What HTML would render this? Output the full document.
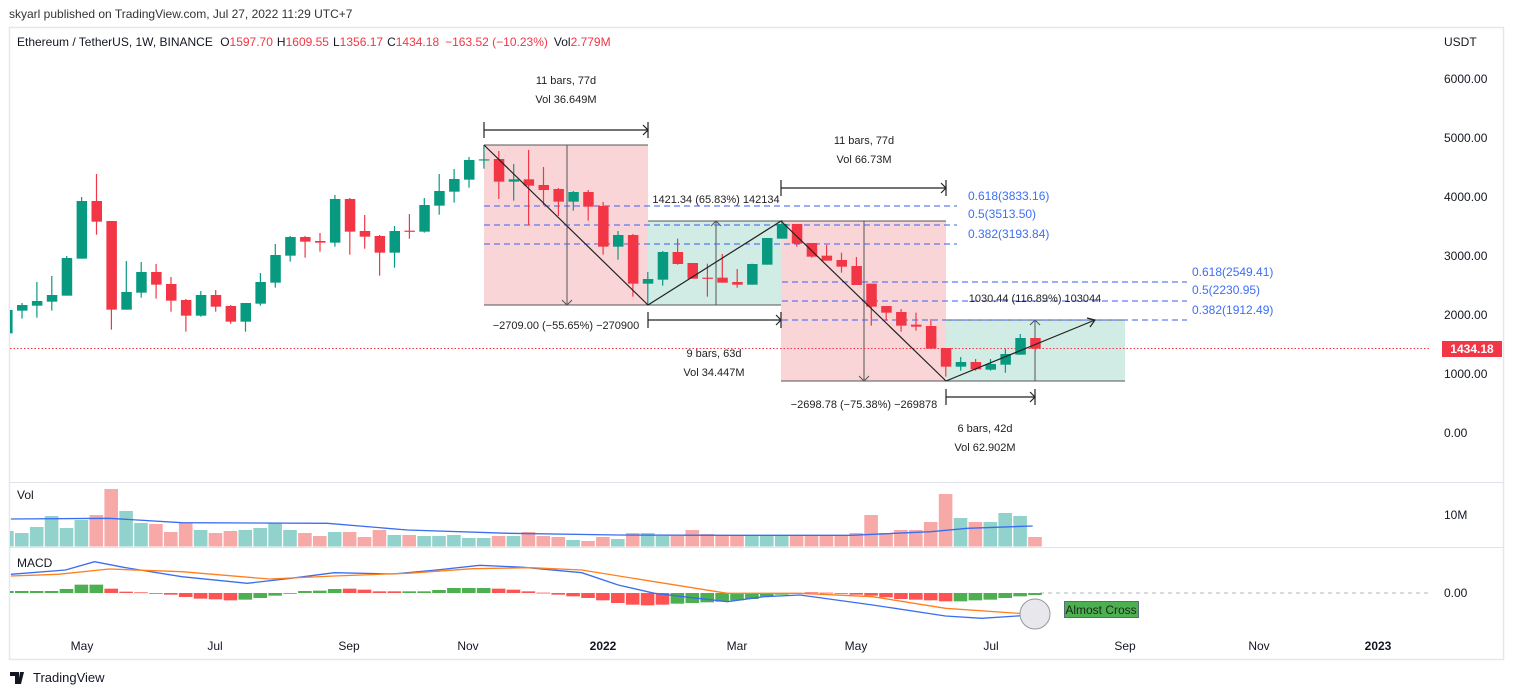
<!DOCTYPE html>
<html><head><meta charset="utf-8"><style>
html,body{margin:0;padding:0;background:#fff;}
svg{display:block;font-family:"Liberation Sans",sans-serif;}
</style></head><body>
<svg id="s" width="1514" height="695" xmlns="http://www.w3.org/2000/svg">
<defs><clipPath id="cp"><rect x="10" y="28" width="1420" height="630"/></clipPath></defs>
<text x="9" y="18" font-size="12" fill="#333">skyarl published on TradingView.com, Jul 27, 2022 11:29 UTC+7</text>
<rect x="9.5" y="27.5" width="1494" height="632" fill="none" stroke="#e6e7ec" stroke-width="1.5"/>
<line x1="9" y1="482.5" x2="1504" y2="482.5" stroke="#e0e3eb"/>
<line x1="9" y1="547.5" x2="1504" y2="547.5" stroke="#e0e3eb"/>
<g font-size="12" fill="#131722">
<text x="17" y="46">Ethereum / TetherUS, 1W, BINANCE <tspan dx="4">O</tspan><tspan fill="#f23645">1597.70</tspan><tspan dx="4">H</tspan><tspan fill="#f23645">1609.55</tspan><tspan dx="4">L</tspan><tspan fill="#f23645">1356.17</tspan><tspan dx="4">C</tspan><tspan fill="#f23645">1434.18</tspan><tspan dx="6" fill="#f23645">−163.52 (−10.23%)</tspan><tspan dx="6">Vol</tspan><tspan fill="#f23645">2.779M</tspan></text>
<text x="1444" y="46">USDT</text>
<text x="1444" y="83">6000.00</text>
<text x="1444" y="142">5000.00</text>
<text x="1444" y="201">4000.00</text>
<text x="1444" y="260">3000.00</text>
<text x="1444" y="319">2000.00</text>
<text x="1444" y="378">1000.00</text>
<text x="1444" y="437">0.00</text>
<text x="1444" y="519">10M</text>
<text x="1444" y="597">0.00</text>
<text x="17" y="499">Vol</text>
<text x="17" y="567">MACD</text>
<g text-anchor="middle">
<text x="82" y="650">May</text><text x="215" y="650">Jul</text><text x="349" y="650">Sep</text><text x="468" y="650">Nov</text><text x="603" y="650" font-weight="bold">2022</text><text x="737" y="650">Mar</text><text x="856" y="650">May</text><text x="991" y="650">Jul</text><text x="1125" y="650">Sep</text><text x="1259" y="650">Nov</text><text x="1378" y="650" font-weight="bold">2023</text>
</g></g>
<g id="main" clip-path="url(#cp)">
<rect x="484" y="145" width="164" height="160" fill="#f9d5d8"/>
<rect x="648" y="221" width="133" height="84" fill="#d1ebe5"/>
<rect x="781" y="221" width="165" height="160" fill="#f9d5d8"/>
<rect x="946" y="320" width="179" height="61" fill="#d1ebe5"/>
<g stroke="#555" stroke-width="1">
<line x1="484" y1="145" x2="648" y2="145"/><line x1="484" y1="305" x2="648" y2="305"/>
<line x1="648" y1="221" x2="781" y2="221"/><line x1="648" y1="305" x2="781" y2="305"/>
<line x1="781" y1="221" x2="946" y2="221"/><line x1="781" y1="381" x2="946" y2="381"/>
<line x1="946" y1="320" x2="1125" y2="320"/><line x1="946" y1="381" x2="1125" y2="381"/>
<line x1="567" y1="145" x2="567" y2="305"/><polyline points="562,300 567,305 572,300" fill="none"/>
<line x1="716" y1="221" x2="716" y2="305"/><polyline points="711,226 716,221 721,226" fill="none"/>
<line x1="864" y1="221" x2="864" y2="381"/><polyline points="859,376 864,381 869,376" fill="none"/>
<line x1="1035" y1="320" x2="1035" y2="381"/><polyline points="1030,325 1035,320 1040,325" fill="none"/>
</g>
<g stroke="#3a5ef5" stroke-dasharray="6,4" stroke-width="1">
<line x1="484" y1="206" x2="957" y2="206"/><line x1="484" y1="225" x2="957" y2="225"/><line x1="484" y1="244" x2="957" y2="244"/>
<line x1="782" y1="282" x2="1187" y2="282"/><line x1="782" y1="301" x2="1187" y2="301"/><line x1="782" y1="320" x2="1187" y2="320"/>
</g>
<line x1="10" y1="348.5" x2="1440" y2="348.5" stroke="#f23645" stroke-dasharray="1.5,2"/>
<g id="candles"></g>
<g stroke="#222" stroke-width="1.2" fill="none">
<line x1="484" y1="145" x2="648" y2="305"/><line x1="648" y1="305" x2="781" y2="221"/><line x1="781" y1="221" x2="946" y2="381"/><line x1="946" y1="381" x2="1095" y2="320"/><polyline points="1087,318 1095,320 1090,327"/>
<line x1="484" y1="130" x2="648" y2="130"/><line x1="484" y1="122" x2="484" y2="138"/><line x1="648" y1="122" x2="648" y2="138"/><polyline points="643,125 648,130 643,135"/>
<line x1="648" y1="320" x2="781" y2="320"/><line x1="648" y1="312" x2="648" y2="328"/><line x1="781" y1="312" x2="781" y2="328"/><polyline points="776,315 781,320 776,325"/>
<line x1="781" y1="188" x2="946" y2="188"/><line x1="781" y1="180" x2="781" y2="196"/><line x1="946" y1="180" x2="946" y2="196"/><polyline points="941,183 946,188 941,193"/>
<line x1="946" y1="397" x2="1035" y2="397"/><line x1="946" y1="389" x2="946" y2="405"/><line x1="1035" y1="389" x2="1035" y2="405"/><polyline points="1030,392 1035,397 1030,402"/>
</g>
<g font-size="11" fill="#222" text-anchor="middle">
<text x="566" y="84">11 bars, 77d</text><text x="566" y="103">Vol 36.649M</text>
<text x="716" y="203">1421.34 (65.83%) 142134</text>
<text x="566" y="329">−2709.00 (−55.65%) −270900</text>
<text x="714" y="357">9 bars, 63d</text><text x="714" y="376">Vol 34.447M</text>
<text x="864" y="144">11 bars, 77d</text><text x="864" y="163">Vol 66.73M</text>
<text x="864" y="408">−2698.78 (−75.38%) −269878</text>
<text x="1035" y="302">1030.44 (116.89%) 103044</text>
<text x="985" y="432">6 bars, 42d</text><text x="985" y="451">Vol 62.902M</text>
</g>
<g font-size="12" fill="#3d6ff5">
<text x="968" y="200">0.618(3833.16)</text><text x="968" y="218">0.5(3513.50)</text><text x="968" y="238">0.382(3193.84)</text>
<text x="1192" y="276">0.618(2549.41)</text><text x="1192" y="294">0.5(2230.95)</text><text x="1192" y="314">0.382(1912.49)</text>
</g>
<g id="vol"></g>
<line x1="1040" y1="593" x2="1430" y2="593" stroke="#b2b5be" stroke-dasharray="4,4"/>
<g id="hist"></g>
<g id="lines"></g>
<circle cx="1035" cy="614" r="15" fill="#e8e8ec" stroke="#9598a1"/>
</g>
<rect x="1442" y="341" width="60" height="16" fill="#f23645"/>
<text x="1472" y="353" font-size="12" font-weight="bold" fill="#fff" text-anchor="middle">1434.18</text>
<rect x="1064.5" y="601.5" width="74" height="16" fill="#4caf50" stroke="#5d6b7a"/>
<text x="1101" y="614" font-size="12" fill="#1b2a1b" text-anchor="middle">Almost Cross</text>
<g transform="translate(10,670)"><path d="M0 2h9v12h-4v-8h-5z M10 2h4l-3 12h-3z" fill="#131722"/><circle cx="13" cy="5" r="0" /></g>
<text x="33" y="682" font-size="13" fill="#131722">TradingView</text>
</svg>
<script>
var NS="http://www.w3.org/2000/svg";
function el(p,t,a){var e=document.createElementNS(NS,t);for(var k in a)e.setAttribute(k,a[k]);document.getElementById(p).appendChild(e);return e;}
var C=[[540,610,540,610,'g'],[525,542,519,566,'g'],[513,527,456,563,'g'],[495,515,438,542,'g'],[384,497,378,497,'g'],[213,386,201,386,'g'],[213,275,132,314,'r'],[273,539,273,599,'r'],[486,539,393,539,'g'],[426,488,396,503,'g'],[426,464,402,506,'r'],[462,512,441,545,'r'],[510,557,507,605,'r'],[495,557,483,560,'g'],[495,530,480,545,'r'],[528,575,525,581,'r'],[519,575,519,605,'g'],[456,521,429,527,'g'],[375,458,342,473,'g'],[321,377,318,395,'g'],[321,335,318,383,'r'],[333,338,309,365,'r'],[207,338,195,350,'g'],[207,305,204,374,'r'],[303,320,255,356,'r'],[318,368,315,437,'r'],[303,368,288,413,'g'],[302,305,252,326,'r'],[225,305,204,308,'g'],[183,227,132,254,'g'],[147,185,117,218,'g'],[90,149,81,173,'g'],[88,91,45,116,'g'],
[87,155,63,207,'r'],[148,155,102,212,'g'],[148,167,60,286,'r'],[165,180,111,226,'r'],[177,215,174,258,'r'],[186,215,183,242,'g'],[186,230,180,272,'r'],[228,350,216,374,'r'],[315,350,303,389,'g'],[315,461,312,500,'r'],[447,461,426,527,'g'],[366,449,363,467,'g'],[366,402,326,404,'r'],[399,446,399,446,'r'],[443,446,401,500,'r'],[443,458,372,458,'r'],[456,464,417,473,'r'],[402,464,401,464,'g'],[324,404,324,404,'g'],[282,326,270,326,'g'],[282,341,282,350,'r'],[339,380,339,383,'r'],[377,392,345,392,'r'],[390,410,368,428,'r'],[408,465,381,465,'r'],[461,530,461,587,'r'],[528,548,528,572,'r'],[546,587,537,605,'r'],[584,590,548,602,'r'],[588,656,567,656,'r'],[654,710,654,740,'r'],[696,710,681,722,'g'],[696,718,687,722,'r'],[702,719,687,722,'g'],[672,704,656,728,'g'],[624,674,612,674,'g'],[624,656,624,666,'r']];
var V=[153,159,141,108,144,120,105,27,93,129,132,156,129,150,159,153,150,144,130,150,159,168,156,156,171,150,165,165,168,168,165,174,174,168,168,156,168,171,180,183,171,177,159,159,168,168,150,162,168,168,168,168,168,168,168,168,168,159,105,159,150,150,126,42,114,126,126,99,108,171];
var H=[6,6,6,6,12,25,25,13,4,2,-2,-5,-12,-17,-19,-22,-20,-15,-8,-2,6,7,12,13,10,5,5,5,5,9,15,15,15,13,10,5,1,-5,-10,-15,-22,-30,-35,-37,-35,-32,-30,-28,-26,-22,-18,-10,-5,-2,2,1,-2,-5,-8,-13,-18,-20,-22,-25,-25,-22,-20,-15,-10,-6];
var HC="gggggggrrrrrrrrrgggggggrrrrggggggrrrrrrrrrrrrgggggggggrrrrrrrrrrgggggg";
for(var i=0;i<C.length;i++){
 var x=7.1+14.9*i,c=C[i],col=c[4]=='g'?'#089981':'#f23645';
 var y=function(z){return 130+z/3;};
 var t=Math.min(c[0],c[1]),b=Math.max(c[0],c[1]);
 el('candles','line',{x1:x,x2:x,y1:y(c[2]),y2:y(c[3]),stroke:col,'stroke-width':1.2});
 el('candles','rect',{x:x-5,y:y(t),width:10.5,height:Math.max(1.2,(b-t)/3),fill:col});
 var vt=480+V[i]/3;
 el('vol','rect',{x:x-7,y:vt,width:13.6,height:546.5-vt,fill:c[4]=='g'?'#92d2cc':'#f7a9a7'});
 var h=H[i]/3,hc=HC[i]=='g'?'#4caf50':'#ff5252';
 el('hist','rect',{x:x-7,y:h>0?593-h:593,width:13.6,height:Math.max(0.8,Math.abs(h)),fill:hc});
}
function pl(pts,col,sx,oy){var s=pts.map(function(p){return (p[0]/sx).toFixed(1)+','+(oy+p[1]/3).toFixed(1)}).join(' ');el('lines','polyline',{points:s,fill:'none',stroke:col,'stroke-width':1.3});}
pl([[15,117],[150,115],[250,128],[450,130],[560,150],[700,160],[850,165],[1000,166],[1170,166],[1280,155],[1330,145],[1420,138]],'#3b6df0',1.375,480);
pl([[15,283],[90,270],[130,245],[170,262],[250,290],[340,310],[400,295],[460,278],[540,282],[600,270],[660,256],[720,262],[800,278],[850,315],[900,340],[1000,365],[1050,350],[1100,345],[1200,375],[1300,408],[1350,415],[1420,405]],'#3b6df0',1.375,480);
pl([[15,288],[80,283],[150,267],[250,275],[370,297],[460,288],[560,280],[650,266],[730,263],[800,270],[900,305],[1000,340],[1100,340],[1200,350],[1300,385],[1420,403]],'#ff7f1e',1.375,480);
</script>
</body></html>
